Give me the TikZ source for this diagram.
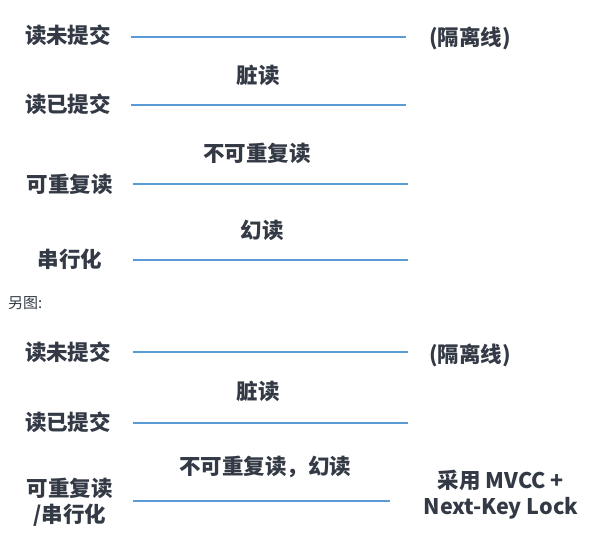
\documentclass[tikz,border=0pt]{standalone}
\usepackage{fontspec}
\newfontfamily\cjk{Noto Sans CJK SC}
\definecolor{txt}{HTML}{333A45}
\definecolor{ln}{HTML}{5B9BD5}
\begin{document}
\begin{tikzpicture}[x=1pt,y=-1pt,
  lbl/.style={font=\cjk\bfseries\fontsize{21.5}{26}\selectfont, text=txt, inner sep=0pt, align=center},
  note/.style={font=\cjk\fontsize{15}{17}\selectfont, text=txt, inner sep=0pt},
  sep/.style={draw=ln, line width=1.8pt}]
\useasboundingbox (0,0) rectangle (590,540);
% top diagram
\node[lbl] (a1) at (68,35) {读未提交};
\node[lbl] (a2) at (68,104) {读已提交};
\node[lbl] (a3) at (70,184) {可重复读};
\node[lbl] (a4) at (70,259) {串行化};
\coordinate (l1s) at (131,37); \coordinate (l1e) at (406,37);
\coordinate (l2s) at (131,105); \coordinate (l2e) at (406,105);
\coordinate (l3s) at (133,184); \coordinate (l3e) at (408,184);
\coordinate (l4s) at (133,260); \coordinate (l4e) at (408,260);
\draw[sep] (l1s) -- (l1e);
\draw[sep] (l2s) -- (l2e);
\draw[sep] (l3s) -- (l3e);
\draw[sep] (l4s) -- (l4e);
\node[lbl] (g1) at (470,38) {(隔离线)};
\node[lbl] (m1) at (258,75) {脏读};
\node[lbl] (m2) at (257,153) {不可重复读};
\node[lbl] (m3) at (262,230) {幻读};
% note
\node[note, anchor=west] (n) at (8,303) {另图:};
% bottom diagram
\node[lbl] (b1) at (68,352) {读未提交};
\node[lbl] (b2) at (68,422) {读已提交};
\node[lbl] (b3) at (70,502) {可重复读\\/串行化};
\coordinate (k1s) at (133,352); \coordinate (k1e) at (408,352);
\coordinate (k2s) at (133,423); \coordinate (k2e) at (408,423);
\coordinate (k3s) at (133,501); \coordinate (k3e) at (390,501);
\draw[sep] (k1s) -- (k1e);
\draw[sep] (k2s) -- (k2e);
\draw[sep] (k3s) -- (k3e);
\node[lbl] (g2) at (470,355) {(隔离线)};
\node[lbl] (d1) at (258,391) {脏读};
\node[lbl] (d2) at (265,467) {不可重复读，幻读};
\node[lbl] (mv) at (501,495) {采用 MVCC +\\Next-Key Lock};
\end{tikzpicture}
\end{document}
